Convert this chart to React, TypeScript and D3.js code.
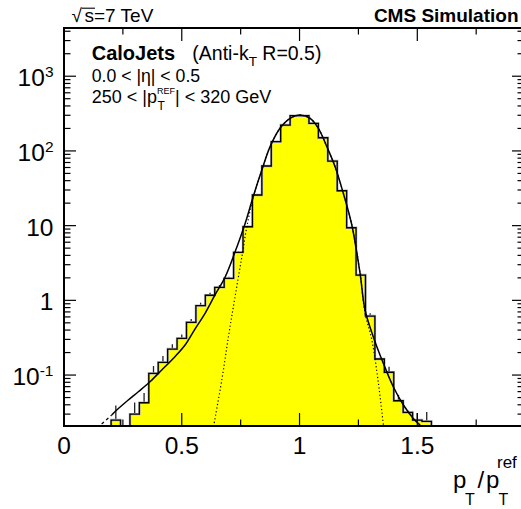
import * as d3 from "d3";
import { useEffect, useRef } from "react";

// Response histogram, bins of 0.04 in pT/pTref starting at 0
const binWidth = 0.04;
const binCounts = [
  0, 0, 0, 0, 0, 0.025, 0, 0.03, 0.0426, 0.105, 0.148, 0.223, 0.31, 0.508,
  0.85, 1.17, 1.49, 1.97, 4.39, 9.67, 25.7, 62.8, 133, 222, 296, 296, 234,
  150, 73.2, 29.3, 9.37, 2.18, 0.616, 0.164, 0.109, 0.0453, 0.0316, 0.025,
  0.024,
];
const binErrors = [
  0, 0, 0, 0, 0, 0.014, 0, 0.013, 0.015, 0.027, 0.032, 0.035, 0.04, 0.054,
  0.08, 0.09, 0.11, 0.1, 0.15, 0.3, 0.6, 1, 1.5, 2, 2.3, 2.3, 2, 1.5, 1, 0.6,
  0.3, 0.1, 0.054, 0.006, 0.02, 0.009, 0.002, 0.006, 0.008,
];

// Full fit (core + tails)
const fitX = [
  0.16, 0.2025, 0.224, 0.273, 0.3155, 0.365, 0.415, 0.471, 0.514, 0.556,
  0.599, 0.641, 0.684, 0.726, 0.769, 0.804, 0.84, 0.875, 0.917, 0.96, 1.002,
  1.045, 1.08, 1.116, 1.151, 1.186, 1.222, 1.257, 1.278, 1.313, 1.356, 1.398,
  1.441, 1.483, 1.512,
];
const fitY = [
  0.0221, 0.0291, 0.034, 0.0463, 0.0598, 0.0813, 0.1167, 0.176, 0.252, 0.413,
  0.67, 1.18, 2.05, 4.43, 10.7, 24.9, 55.5, 114, 201, 273, 303, 273, 201, 114,
  61.4, 27.1, 10.2, 2.3, 0.742, 0.326, 0.143, 0.0697, 0.0397, 0.0263, 0.0214,
];
const fitRangeLow = 0.2;

// Gaussian core fit (dotted)
const gaussX = [
  0.635, 0.67, 0.698, 0.726, 0.755, 0.776, 0.804, 0.84, 0.875, 0.917, 0.96,
  1.002, 1.045, 1.08, 1.116, 1.151, 1.186, 1.222, 1.257, 1.278, 1.307, 1.335,
  1.356,
];
const gaussY = [
  0.0206, 0.0857, 0.323, 1.107, 3.8, 9.58, 24.2, 55.5, 114, 201, 273, 303,
  273, 201, 114, 61.4, 27.1, 10.2, 2.3, 0.676, 0.294, 0.0774, 0.0214,
];

const xMajorTicks = [0, 0.5, 1, 1.5];
const xMinorTicks = [0.25, 0.75, 1.25, 1.75];
const xTickLabels = ["0", "0.5", "1", "1.5"];
const yLabelValues = [1000, 100, 10, 1, 0.1];
const yLabelBase = ["10", "10", "10", "1", "10"];
const yLabelExp = ["3", "2", "", "", "-1"];

const W = 521;
const H = 509;
const FONT = "'Liberation Sans', Arial, Helvetica, sans-serif";

export default function App() {
  const svgRef = useRef<SVGSVGElement>(null);

  useEffect(() => {
    if (!svgRef.current) return;
    const frame = { left: 64, right: 524, top: 28, bottom: 426 };

    const x = d3.scaleLinear().domain([0, 1.953]).range([frame.left, frame.right]);
    const y = d3.scaleLog().domain([0.0208, 4420]).range([frame.bottom, frame.top]);
    const floor = 0.001;

    const svg = d3.select(svgRef.current);
    svg.selectAll("*").remove();
    svg.append("rect").attr("width", W).attr("height", H).attr("fill", "#fff");

    svg
      .append("clipPath")
      .attr("id", "plot-clip")
      .append("rect")
      .attr("x", frame.left)
      .attr("y", frame.top)
      .attr("width", frame.right - frame.left)
      .attr("height", frame.bottom - frame.top);
    const plot = svg.append("g").attr("clip-path", "url(#plot-clip)");

    // histogram as step points
    const steps: [number, number][] = [[0, floor]];
    binCounts.forEach((c, i) => steps.push([i * binWidth, Math.max(c, floor)]));
    steps.push([binCounts.length * binWidth, floor]);

    const area = d3
      .area<[number, number]>()
      .x((d) => x(d[0]))
      .y0(frame.bottom)
      .y1((d) => y(d[1]))
      .curve(d3.curveStepAfter);
    plot.append("path").attr("d", area(steps)).attr("fill", "#ffff00");

    // error bars (lower half is hidden under the fill)
    binCounts.forEach((c, i) => {
      const e = binErrors[i];
      if (c <= 0 || e <= 0) return;
      const cx = x((i + 0.5) * binWidth);
      plot
        .append("line")
        .attr("x1", cx)
        .attr("x2", cx)
        .attr("y1", y(c))
        .attr("y2", y(c + e))
        .attr("stroke", "#222")
        .attr("stroke-width", 1.3);
    });

    const outline = d3
      .line<[number, number]>()
      .x((d) => x(d[0]))
      .y((d) => y(d[1]))
      .curve(d3.curveStepAfter);
    plot
      .append("path")
      .attr("d", outline(steps))
      .attr("fill", "none")
      .attr("stroke", "#b0b0b0")
      .attr("stroke-width", 2.4);
    plot
      .append("path")
      .attr("d", outline(steps))
      .attr("fill", "none")
      .attr("stroke", "#000")
      .attr("stroke-width", 1.3);

    // fit curves
    const curve = d3
      .line<[number, number]>()
      .x((d) => x(d[0]))
      .y((d) => y(d[1]))
      .curve(d3.curveCatmullRom.alpha(0.5));
    const fitPts = fitX.map((v, i) => [v, fitY[i]] as [number, number]);
    const gaussPts = gaussX.map((v, i) => [v, gaussY[i]] as [number, number]);

    plot
      .append("path")
      .attr("d", curve(gaussPts))
      .attr("fill", "none")
      .attr("stroke", "#000")
      .attr("stroke-width", 1.2)
      .attr("stroke-dasharray", "1.2,2.4");
    plot
      .append("path")
      .attr("d", curve(fitPts.filter((d) => d[0] <= fitRangeLow + 0.01)))
      .attr("fill", "none")
      .attr("stroke", "#000")
      .attr("stroke-width", 1.2)
      .attr("stroke-dasharray", "3,3");
    plot
      .append("path")
      .attr("d", curve(fitPts.filter((d) => d[0] >= fitRangeLow)))
      .attr("fill", "none")
      .attr("stroke", "#000")
      .attr("stroke-width", 1.5);

    // frame
    svg
      .append("rect")
      .attr("x", frame.left)
      .attr("y", frame.top)
      .attr("width", frame.right - frame.left)
      .attr("height", frame.bottom - frame.top)
      .attr("fill", "none")
      .attr("stroke", "#000")
      .attr("stroke-width", 2);

    const tick = (x1: number, y1: number, x2: number, y2: number) =>
      svg
        .append("line")
        .attr("x1", x1)
        .attr("y1", y1)
        .attr("x2", x2)
        .attr("y2", y2)
        .attr("stroke", "#000")
        .attr("stroke-width", 1.2);

    // x ticks, bottom and top
    xMajorTicks.forEach((t) => {
      tick(x(t), frame.bottom, x(t), frame.bottom - 13);
      tick(x(t), frame.top, x(t), frame.top + 13);
    });
    xMinorTicks.forEach((t) => {
      tick(x(t), frame.bottom, x(t), frame.bottom - 6.5);
      tick(x(t), frame.top, x(t), frame.top + 6.5);
    });

    // y ticks, left and right
    y.ticks().forEach((t) => {
      const major = Math.abs(Math.log10(t) - Math.round(Math.log10(t))) < 1e-6;
      const len = major ? 12 : 6.5;
      tick(frame.left, y(t), frame.left + len, y(t));
      tick(frame.right, y(t), frame.right - len, y(t));
    });

    // x labels
    xMajorTicks.forEach((t, i) => {
      svg
        .append("text")
        .attr("x", x(t))
        .attr("y", 453.5)
        .attr("text-anchor", "middle")
        .attr("font-family", FONT)
        .attr("font-size", 24.5)
        .text(xTickLabels[i]);
    });

    // y labels
    yLabelValues.forEach((v, i) => {
      const t = svg
        .append("text")
        .attr("x", 53.5)
        .attr("y", y(v) + 10)
        .attr("text-anchor", "end")
        .attr("font-family", FONT)
        .attr("font-size", 24.5);
      t.append("tspan").text(yLabelBase[i]);
      if (yLabelExp[i]) {
        t.append("tspan")
          .attr("dy", -9)
          .attr("font-size", 15.5)
          .text(yLabelExp[i]);
      }
    });

    const put = (tx: number, ty: number, size: number, s: string, weight = "normal") =>
      svg
        .append("text")
        .attr("x", tx)
        .attr("y", ty)
        .attr("font-family", FONT)
        .attr("font-size", size)
        .attr("font-weight", weight)
        .text(s);

    // axis title p_T/p_T^ref
    put(453, 488, 24, "p");
    put(465, 504.5, 16, "T");
    put(477.5, 488, 24, "/");
    put(486, 488, 24, "p");
    put(498.5, 504.5, 16, "T");
    put(497, 468, 17, "ref");

    // header
    put(71.5, 21.7, 19, "√");
    put(84.5, 21.7, 19, "s=7 TeV");
    svg
      .append("line")
      .attr("x1", 82)
      .attr("x2", 95)
      .attr("y1", 8.2)
      .attr("y2", 8.2)
      .attr("stroke", "#000")
      .attr("stroke-width", 1.1);
    put(518.5, 21.7, 19, "CMS Simulation", "bold").attr("text-anchor", "end");

    // legend
    put(91.7, 60, 20, "CaloJets", "bold");
    const algo = put(192.3, 60, 19.5, "(Anti-k");
    algo.append("tspan").attr("dy", 6).attr("font-size", 13.5).text("T");
    algo.append("tspan").attr("dy", -6).attr("font-size", 19.5).text(" R=0.5)");
    put(91.7, 82, 17.7, "0.0 < |η| < 0.5");
    put(91.7, 103, 18, "250 < |p");
    put(157.5, 109.5, 12, "T");
    put(157, 93.5, 9, "REF");
    put(175, 103, 18, "| < 320 GeV");
  }, []);

  return (
    <svg
      ref={svgRef}
      width={W}
      height={H}
      viewBox={`0 0 ${W} ${H}`}
      style={{ position: "absolute", left: 0, top: 0, display: "block" }}
    />
  );
}
